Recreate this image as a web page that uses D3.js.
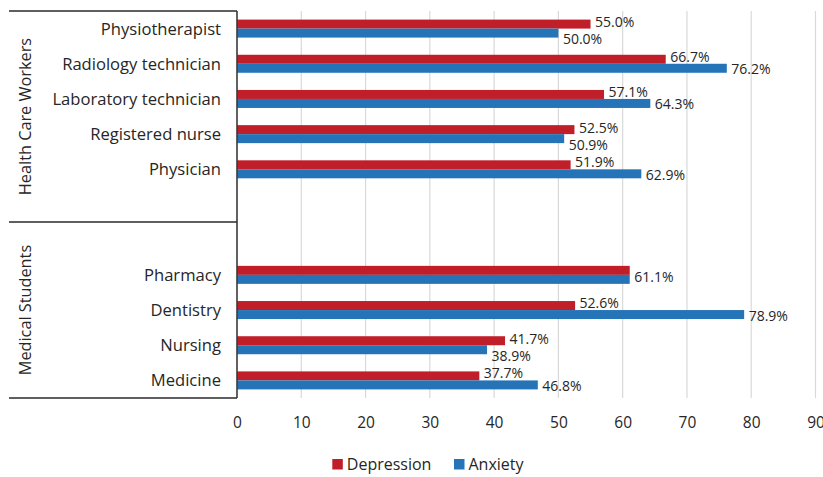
<!DOCTYPE html>
<html>
<head>
<meta charset="utf-8">
<script src="https://cdn.jsdelivr.net/npm/d3@7"></script>
<style>
  html, body { margin: 0; padding: 0; background: #fff; }
  svg { display: block; }
  text { font-family: "Open Sans", sans-serif; fill: #262626; }
</style>
</head>
<body>
<svg id="chart" width="823" height="477"></svg>
<script>
// ---- data ----
const groups = ["Health Care Workers", "Medical Students"];
const healthCareCategories = ["Physiotherapist", "Radiology technician", "Laboratory technician", "Registered nurse", "Physician"];
const studentCategories = ["Pharmacy", "Dentistry", "Nursing", "Medicine"];
const series = ["Depression", "Anxiety"];
const depression = [55.0, 66.7, 57.1, 52.5, 51.9, 61.1, 52.6, 41.7, 37.7];
const anxiety    = [50.0, 76.2, 64.3, 50.9, 62.9, 61.1, 78.9, 38.9, 46.8];
const xTicks = [0, 10, 20, 30, 40, 50, 60, 70, 80, 90];

// ---- layout ----
const W = 823, H = 477;
const plot = { left: 237, right: 815.5, top: 11, bottom: 398 };
const colors = { Depression: "#c01f2a", Anxiety: "#2674b8" };

const svg = d3.select("#chart");

// slots: group 1 categories + blank, blank + group 2 categories
const slots = [...healthCareCategories, "__gap1", "__gap2", ...studentCategories];
const categories = [...healthCareCategories, ...studentCategories];

const x = d3.scaleLinear().domain([0, 90]).range([plot.left, plot.right]);
const y = d3.scaleBand().domain(slots).range([plot.top, plot.bottom]).paddingInner(0).paddingOuter(0);
const barH = 9;
const pad = (y.bandwidth() - 2 * barH) / 2 / barH;
const ySub = d3.scaleBand().domain(series).range([0, y.bandwidth()]).paddingInner(0).paddingOuter(pad);

// gridlines
svg.append("g").selectAll("line").data(xTicks.filter(d => d > 0)).join("line")
  .attr("x1", d => x(d)).attr("x2", d => x(d))
  .attr("y1", plot.top).attr("y2", plot.bottom)
  .attr("stroke", "#d9d9d9").attr("stroke-width", 1.2);

// bars
const rows = categories.map((c, i) => ({ cat: c, Depression: depression[i], Anxiety: anxiety[i] }));
const barG = svg.append("g");
rows.forEach(r => {
  series.forEach(s => {
    barG.append("rect")
      .attr("x", x(0))
      .attr("y", y(r.cat) + ySub(s))
      .attr("width", x(r[s]) - x(0))
      .attr("height", ySub.bandwidth())
      .attr("fill", colors[s]);
  });
});

// data labels
const fmt = d => d.toFixed(1) + "%";
const labelG = svg.append("g").attr("font-size", 14);
const approxW = 40;
rows.forEach(r => {
  const yD = y(r.cat) + ySub("Depression") + ySub.bandwidth() / 2;
  const yA = y(r.cat) + ySub("Anxiety") + ySub.bandwidth() / 2;
  const add = (val, cy) => labelG.append("text")
    .attr("x", x(val) + 4.5).attr("y", cy).attr("dy", "0.36em").text(fmt(val));
  if (r.Depression === r.Anxiety) {
    add(r.Anxiety, (yD + yA) / 2 + 2);
    return;
  }
  const overlap = Math.abs(x(r.Anxiety) - x(r.Depression)) < approxW;
  if (overlap) {
    add(r.Depression, yD - 2);
    add(r.Anxiety, yA + 6);
  } else {
    add(r.Depression, yD - 2.5);
    add(r.Anxiety, yA + 1);
  }
});

// x axis
const xAxis = d3.axisBottom(x).tickValues(xTicks).tickSize(0).tickPadding(18.5).tickFormat(d3.format("d"));
const ax = svg.append("g").attr("transform", `translate(0,${plot.bottom})`).call(xAxis);
ax.select(".domain").remove();
ax.selectAll("text").attr("font-size", 15.5).attr("font-family", "Open Sans, sans-serif").attr("fill", "#262626");

// y axis line
svg.append("line")
  .attr("x1", plot.left).attr("x2", plot.left)
  .attr("y1", plot.top).attr("y2", plot.bottom)
  .attr("stroke", "#3a3a3a").attr("stroke-width", 1.6);

// group separators
const sepY = [plot.top, y("__gap2"), plot.bottom];
svg.append("g").selectAll("line").data(sepY).join("line")
  .attr("x1", 9).attr("x2", plot.left)
  .attr("y1", d => d).attr("y2", d => d)
  .attr("stroke", "#2a2a2a").attr("stroke-width", 1.5);

// category labels
svg.append("g").selectAll("text").data(categories).join("text")
  .attr("x", 221).attr("y", d => y(d) + y.bandwidth() / 2)
  .attr("dy", "0.36em").attr("text-anchor", "end").attr("font-size", 16.6)
  .text(d => d);

// group labels
const groupSpans = [
  [plot.top, y("__gap2")],
  [y("__gap2"), plot.bottom]
];
svg.append("g").selectAll("text").data(groups).join("text")
  .attr("transform", (d, i) => `translate(31,${(groupSpans[i][0] + groupSpans[i][1]) / 2}) rotate(-90)`)
  .attr("text-anchor", "middle").attr("font-size", 16.3)
  .text(d => d);

// legend
const legendX = [332.3, 454];
const leg = svg.append("g");
series.forEach((s, i) => {
  leg.append("rect").attr("x", legendX[i]).attr("y", 459).attr("width", 10.5).attr("height", 10.5).attr("fill", colors[s]);
  leg.append("text").attr("x", legendX[i] + 14.5).attr("y", 470.3).attr("font-size", 16).text(s);
});
</script>
</body>
</html>
